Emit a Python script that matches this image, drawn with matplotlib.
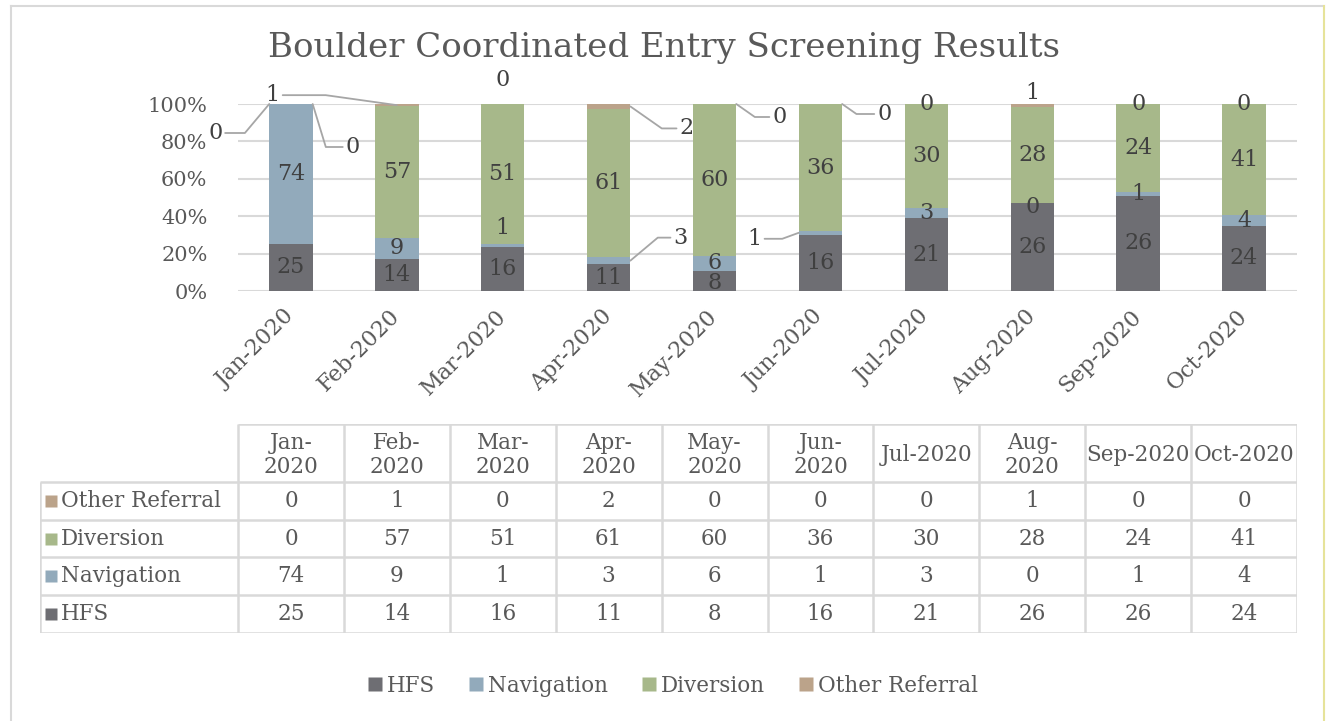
import numpy as np
import matplotlib.pyplot as plt
from matplotlib.lines import Line2D

months = ['Jan-2020', 'Feb-2020', 'Mar-2020', 'Apr-2020', 'May-2020',
          'Jun-2020', 'Jul-2020', 'Aug-2020', 'Sep-2020', 'Oct-2020']
header_labels = ['Jan-\n2020', 'Feb-\n2020', 'Mar-\n2020', 'Apr-\n2020', 'May-\n2020',
                 'Jun-\n2020', 'Jul-2020', 'Aug-\n2020', 'Sep-2020', 'Oct-2020']
hfs = [25, 14, 16, 11, 8, 16, 21, 26, 26, 24]
navigation = [74, 9, 1, 3, 6, 1, 3, 0, 1, 4]
diversion = [0, 57, 51, 61, 60, 36, 30, 28, 24, 41]
other_referral = [0, 1, 0, 2, 0, 0, 0, 1, 0, 0]
series_names = ['HFS', 'Navigation', 'Diversion', 'Other Referral']
colors = ['#6E6E73', '#92AABB', '#A7B88A', '#BBA38A']

TXT = '#595959'
LBL = '#404040'
GRID = '#D9D9D9'
plt.rcParams['font.family'] = 'DejaVu Serif'

W, H = 1329, 721
fig = plt.figure(figsize=(W / 100, H / 100), dpi=100)


def px_axes(x0, y0, x1, y1):
    return fig.add_axes([x0 / W, 1 - y1 / H, (x1 - x0) / W, (y1 - y0) / H])


# outer frame
fig.add_artist(Line2D([11 / W, 1324 / W], [1 - 6 / H, 1 - 6 / H], color=GRID, lw=1.5))
fig.add_artist(Line2D([11 / W, 11 / W], [0, 1 - 6 / H], color=GRID, lw=1.5))
fig.add_artist(Line2D([1324 / W, 1324 / W], [0, 1 - 6 / H], color='#E6E39A', lw=1.5))

fig.text(664 / W, 1 - 48 / H, 'Boulder Coordinated Entry Screening Results',
         ha='center', va='center', fontsize=24.5, color=TXT)

ax = px_axes(238, 104, 1297, 291)
data = np.array([hfs, navigation, diversion, other_referral], dtype=float)
shares = data / data.sum(axis=0)
x = np.arange(len(months))
bw = 0.41
bottoms = np.zeros(len(months))
mids = np.zeros_like(shares)
for i in range(4):
    ax.bar(x, shares[i], bottom=bottoms, width=bw, color=colors[i], zorder=2)
    mids[i] = bottoms + shares[i] / 2
    bottoms = bottoms + shares[i]

ax.set_xlim(-0.5, len(months) - 0.5)
ax.set_ylim(0, 1)
ax.set_yticks(np.linspace(0, 1, 6))
ax.set_yticklabels([f'{int(round(v * 100))}%' for v in np.linspace(0, 1, 6)])
ax.set_xticks(x)
ax.set_xticklabels(months, rotation=45, ha='right', va='center', rotation_mode='anchor')
ax.tick_params(length=0, colors=TXT)
ax.tick_params(axis='y', pad=22, labelsize=15)
ax.tick_params(axis='x', pad=16, labelsize=16)
ax.yaxis.grid(True, color=GRID, lw=1.5)
ax.set_axisbelow(True)
for s in ax.spines.values():
    s.set_visible(False)

# labels with leader lines: (series, month): (anchor side, dx px, dy px, line angle)
leaders = {
    (2, 0): ('left', -54, -29, 50),
    (3, 0): ('right', 40, -43, -73),
    (3, 1): ('center', -124, 10, -8),
    (3, 3): ('right', 56, -22, -35),
    (1, 3): ('right', 50, 23, 40),
    (3, 4): ('right', 43, -13, -35),
    (3, 5): ('right', 42, -10, -35),
    (1, 5): ('left', -44, -6, 20),
}
# labels just shifted from the segment centre
shifts = {(3, 2): (0, 24), (3, 7): (0, 13), (1, 2): (0, 18), (1, 7): (0, -4), (0, 4): (0, -2)}

for i in range(4):
    for j in range(len(months)):
        val = str(int(data[i, j]))
        if (i, j) in leaders:
            side, dx, dy, ang = leaders[(i, j)]
            xa = x[j] + {'left': -bw / 2, 'right': bw / 2, 'center': 0}[side]
            ax.annotate(val, xy=(xa, mids[i, j]), xytext=(dx, dy), textcoords='offset pixels',
                        ha='center', va='center', fontsize=16, color=LBL,
                        annotation_clip=False,
                        arrowprops=dict(arrowstyle='-', color='#A6A6A6', lw=1.3,
                                        shrinkA=0, shrinkB=0,
                                        connectionstyle=f'angle,angleA=0,angleB={ang},rad=0'))
        else:
            dx, dy = shifts.get((i, j), (0, 0))
            ax.annotate(val, xy=(x[j], mids[i, j]), xytext=(dx, dy), textcoords='offset pixels',
                        ha='center', va='center', fontsize=16, color=LBL,
                        annotation_clip=False, zorder=3)

# data table
row_h = [1.53, 1, 1, 1, 1]
label_w = (238 - 40) / ((1297 - 238) / len(months))
tx = px_axes(40, 424, 1297, 633)
tx.set_xlim(-0.5 - label_w, len(months) - 0.5)
tx.set_ylim(sum(row_h), 0)
tx.axis('off')
edges = np.concatenate([[0], np.cumsum(row_h)])
lkw = dict(color=GRID, lw=1.8, solid_capstyle='butt')
tx.plot([-0.5, len(months) - 0.5], [0, 0], **lkw)
for e in edges[1:]:
    tx.plot([-0.5 - label_w, len(months) - 0.5], [e, e], **lkw)
for k in range(len(months) + 1):
    tx.plot([k - 0.5, k - 0.5], [0, edges[-1]], **lkw)
tx.plot([-0.5 - label_w] * 2, [edges[1], edges[-1]], **lkw)

for j, lab in enumerate(header_labels):
    tx.text(j, row_h[0] / 2 + 0.05, lab, ha='center', va='center', fontsize=15.5,
            color=TXT, linespacing=1.15)
table_order = [3, 2, 1, 0]
for r, i in enumerate(table_order):
    yc = (edges[r + 1] + edges[r + 2]) / 2
    tx.plot(-0.5 - label_w + 0.1, yc, marker='s', ms=8, color=colors[i], mec='none')
    tx.text(-0.5 - label_w + 0.2, yc, series_names[i], ha='left', va='center',
            fontsize=15.5, color=TXT)
    for j in range(len(months)):
        tx.text(j, yc, str(int(data[i, j])), ha='center', va='center', fontsize=15.5, color=TXT)

handles = [Line2D([], [], marker='s', ls='none', ms=10, color=c, mec='none') for c in colors]
fig.legend(handles, series_names, loc='center', bbox_to_anchor=(672 / W, 1 - 686 / H),
           ncol=4, frameon=False, fontsize=15.5, labelcolor=TXT, handletextpad=0.15,
           columnspacing=1.5, handlelength=0.8)

fig.savefig('out.png', dpi=100)
